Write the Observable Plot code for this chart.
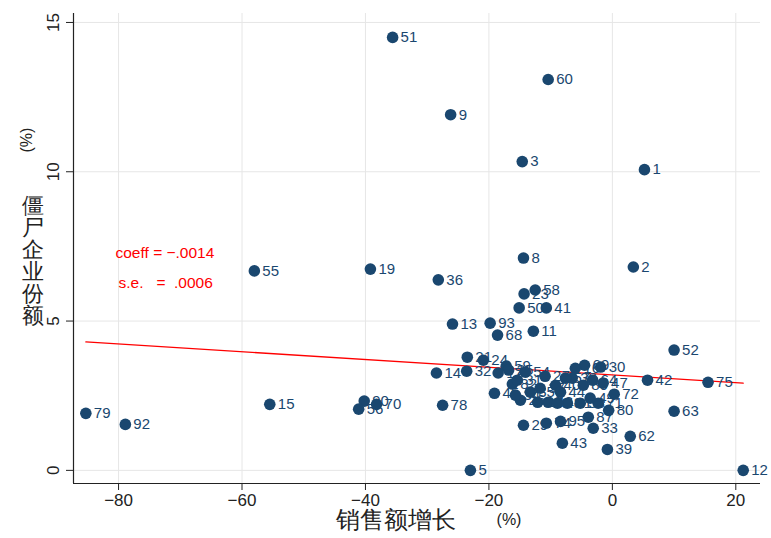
<!DOCTYPE html>
<html><head><meta charset="utf-8">
<script src="https://cdn.jsdelivr.net/npm/d3@7"></script>
<script src="https://cdn.jsdelivr.net/npm/@observablehq/plot@0.6"></script>
<style>body{margin:0;background:#fff}</style>
</head><body><div id="chart"></div>
<script>
// Region ids, sales growth (%), zombie-firm share (%)
const ids = ["51","60","9","3","1","8","2","55","19","36","58","23","50","41","13","93","11","68","52","42","75","63","62","12","5","39","43","33","79","92","15","90","56","70","78","14","21","24","32","59","29","74","95","87","80","71","45","82","30","69","16","47","72","38","89","27","22","26","61","17","25","31","34","35","37","40","44","46","48","49","53","54","57","64"];
const growth = [-35.6,-10.4,-26.2,-14.6,5.2,-14.4,3.4,-58.0,-39.2,-28.2,-12.5,-14.3,-15.1,-10.7,-25.9,-19.8,-12.8,-18.6,10.0,5.7,15.5,10.0,2.9,21.2,-23.0,-0.8,-8.1,-3.1,-85.3,-78.9,-55.5,-40.2,-41.1,-38.2,-27.5,-28.5,-23.5,-20.9,-23.6,-17.2,-14.4,-10.7,-8.4,-3.9,-0.6,-2.3,-19.1,-16.2,-1.9,-4.5,-6.0,-1.5,0.3,-6.5,-4.7,-10.9,-12.1,-14.9,-7.3,-18.5,-16.8,-15.4,-15.7,-13.3,-11.7,-9.2,-8.4,-10.4,-8.9,-3.6,-5.2,-14.1,-7.6,-3.2];
const share = [14.5,13.09,11.91,10.34,10.07,7.11,6.81,6.68,6.74,6.38,6.04,5.91,5.44,5.44,4.90,4.93,4.66,4.53,4.03,3.02,2.95,1.98,1.14,0.0,0.0,0.70,0.91,1.41,1.91,1.54,2.21,2.32,2.05,2.21,2.18,3.26,3.79,3.69,3.32,3.49,1.51,1.58,1.64,1.78,2.01,2.25,2.58,2.89,3.46,3.52,3.42,2.92,2.55,3.09,2.85,3.15,2.28,2.35,2.25,3.26,3.36,3.02,2.52,2.62,2.75,2.85,2.62,2.28,2.25,2.42,2.25,3.29,3.09,3.02];
// Fitted line endpoints
const fitX = [-85.3, 21.2];
const fitY = [4.30, 2.92];
const xTicks = [-80, -60, -40, -20, 0, 20];
const yTicks = [0, 5, 10, 15];
const xDomain = [-87.3, 24];
const yDomain = [-0.44, 15.3];

const pts = ids.map((id, i) => ({id, x: growth[i], y: share[i]}));
const fit = fitX.map((x, i) => ({x, y: fitY[i]}));
const navy = "#1a476f";

const chart = Plot.plot({
  width: 771, height: 538,
  marginLeft: 73, marginTop: 13, marginRight: 11, marginBottom: 55,
  style: {fontFamily: "'Liberation Sans', Arial, sans-serif", background: "#fff"},
  x: {domain: xDomain},
  y: {domain: yDomain},
  marks: [
    Plot.gridX(xTicks, {stroke: "#e6e6e6", strokeOpacity: 1}),
    Plot.gridY(yTicks, {stroke: "#e6e6e6", strokeOpacity: 1}),
    Plot.ruleX([xDomain[0]], {stroke: "#222", strokeWidth: 1.2}),
    Plot.ruleY([yDomain[0]], {stroke: "#222", strokeWidth: 1.2}),
    Plot.axisX({ticks: xTicks, tickSize: 7, tickPadding: 3, fontSize: 17, label: null, color: "#222"}),
    Plot.axisY({ticks: yTicks, tickSize: 7, tickPadding: 8, fontSize: 17, label: null, tickRotate: -90, color: "#222"}),
    Plot.line(fit, {x: "x", y: "y", stroke: "#ff0000", strokeWidth: 1.3}),
    Plot.dot(pts, {x: "x", y: "y", r: 5.8, fill: navy, stroke: "none"}),
    Plot.text(pts, {x: "x", y: "y", text: "id", dx: 8, textAnchor: "start", fill: navy, fontSize: 15}),
    Plot.text(["coeff = \u2212.0014"], {frameAnchor: "top-left", dx: 42, dy: 233, textAnchor: "start", fill: "#ff0000", fontSize: 15.5}),
    Plot.text(["s.e.\u00a0\u00a0\u00a0=\u00a0\u00a0.0006"], {frameAnchor: "top-left", dx: 45, dy: 263, textAnchor: "start", fill: "#ff0000", fontSize: 15.5}),
    Plot.text(["销售额增长"], {frameAnchor: "bottom", dx: -21, dy: 44, fontSize: 24, fill: "#222"}),
    Plot.text(["(%)"], {frameAnchor: "bottom", dx: 92, dy: 41, fontSize: 16, fill: "#222"}),
    Plot.text(["僵\n尸\n企\n业\n份\n额"], {frameAnchor: "left", dx: -52, dy: 12, fontSize: 22, lineHeight: 1.0, fill: "#222"}),
    Plot.text(["(%)"], {frameAnchor: "left", dx: -47, dy: -96, rotate: -90, fontSize: 16, fill: "#222"})
  ]
});
document.getElementById("chart").append(chart);
</script>
</body></html>
